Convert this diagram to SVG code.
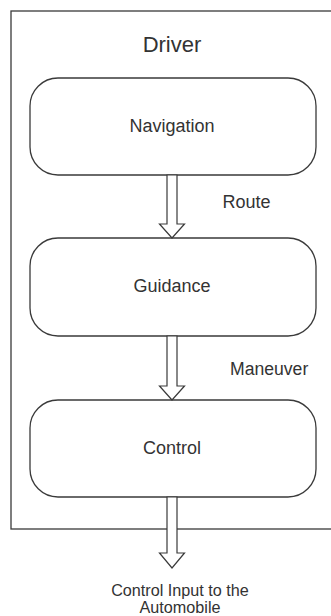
<svg xmlns="http://www.w3.org/2000/svg" width="331" height="616" viewBox="0 0 331 616">
<style>
.frame{fill:none;stroke:#3a3a3a;stroke-width:1.3}
.box{fill:#fff;stroke:#3a3a3a;stroke-width:1.3}
.arr{fill:#fff;stroke:#3a3a3a;stroke-width:1.2;stroke-linejoin:miter}
text{font-family:"Liberation Sans",Arial,sans-serif;fill:#333}
.c{text-anchor:middle}
</style>
<rect width="331" height="616" fill="#fff"/>
<g id="driver">
<rect class="frame" x="11" y="11" width="340" height="518"/>
<text class="c" x="172" y="52" font-size="22">Driver</text>
</g>
<g id="navigation">
<rect class="box" x="30" y="78" width="286" height="97" rx="28" ry="28"/>
<text class="c" x="172" y="132" font-size="18">Navigation</text>
</g>
<g id="guidance">
<rect class="box" x="30" y="238" width="286" height="98" rx="28" ry="28"/>
<text class="c" x="172" y="292" font-size="18">Guidance</text>
</g>
<g id="control">
<rect class="box" x="30" y="400" width="286" height="97" rx="28" ry="28"/>
<text class="c" x="172" y="454" font-size="18">Control</text>
</g>
<g id="connectors">
<path class="arr" d="M167,175 V224 H159.5 L172,238 L184.5,224 H177 V175 Z"/>
<path class="arr" d="M167,336 V386 H159.5 L172,400 L184.5,386 H177 V336 Z"/>
<path class="arr" d="M167,497 V553 H159.5 L172,568 L184.5,553 H177 V497 Z"/>
<text x="222.5" y="208" font-size="18">Route</text>
<text x="230" y="375" font-size="17.6">Maneuver</text>
</g>
<g id="output">
<text class="c" x="180" y="596" font-size="16.2">Control Input to the</text>
<text class="c" x="180" y="613" font-size="16.2">Automobile</text>
</g>
</svg>
